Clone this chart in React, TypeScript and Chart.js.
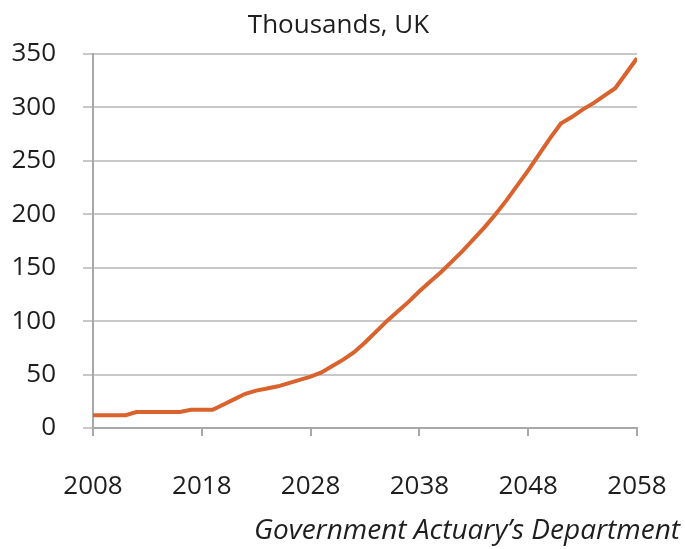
import React, { useEffect, useRef } from 'react';
import Chart from 'chart.js/auto';

const years = [
  2008, 2009, 2010, 2011, 2012, 2013, 2014, 2015, 2016, 2017,
  2018, 2019, 2020, 2021, 2022, 2023, 2024, 2025, 2026, 2027,
  2028, 2029, 2030, 2031, 2032, 2033, 2034, 2035, 2036, 2037,
  2038, 2039, 2040, 2041, 2042, 2043, 2044, 2045, 2046, 2047,
  2048, 2049, 2050, 2051, 2052, 2053, 2054, 2055, 2056, 2057,
  2058,
];

const centenariansThousands = [
  12, 12, 12, 12, 15, 15, 15, 15, 15, 17,
  17, 17, 22, 27, 32, 35, 37, 39, 42, 45,
  48, 52, 58, 64, 71, 80, 90, 100, 109, 118,
  128, 137, 146, 156, 166, 177, 188, 200, 213, 227,
  241, 256, 271, 285, 291, 298, 304, 311, 318, 332,
  346,
];

const xTickYears = [2008, 2018, 2028, 2038, 2048, 2058];
const yTickValues = [0, 50, 100, 150, 200, 250, 300, 350];

const subtitleText = 'Thousands, UK';
const sourceText = "Government Actuary\u2019s Department";

const FONT_FAMILY = '"Open Sans", "Noto Sans", sans-serif';
const TEXT_COLOR = '#1e1e1e';
const GRID_COLOR = '#c8c8c8';
const AXIS_COLOR = '#a8a8a8';
const LINE_COLOR = '#d9622d';

export default function App() {
  const canvasRef = useRef<HTMLCanvasElement>(null);

  useEffect(() => {
    if (!canvasRef.current) return;
    const chart = new Chart(canvasRef.current, {
      type: 'line',
      data: {
        datasets: [
          {
            data: years.map((yr, i) => ({ x: yr, y: centenariansThousands[i] })),
            borderColor: LINE_COLOR,
            borderWidth: 4,
            pointRadius: 0,
            tension: 0,
            fill: false,
          },
        ],
      },
      options: {
        animation: false,
        responsive: false,
        layout: { padding: { top: 54, right: 48, bottom: 41, left: 0 } },
        plugins: {
          legend: { display: false },
          tooltip: { enabled: false },
          title: { display: false },
        },
        scales: {
          x: {
            type: 'linear',
            min: xTickYears[0],
            max: xTickYears[xTickYears.length - 1],
            afterBuildTicks: (scale: any) => {
              scale.ticks = xTickYears.map((v) => ({ value: v }));
            },
            afterFit: (scale: any) => {
              scale.height = 80;
              scale.paddingLeft = 0;
              scale.paddingRight = 0;
            },
            grid: {
              drawOnChartArea: false,
              drawTicks: true,
              tickLength: 8,
              color: AXIS_COLOR,
              lineWidth: 2,
            },
            border: { display: true, color: AXIS_COLOR, width: 2 },
            ticks: {
              font: { family: FONT_FAMILY, size: 26 },
              color: TEXT_COLOR,
              padding: 35,
              maxRotation: 0,
              autoSkip: false,
              callback: (v: any) => String(v),
            },
          },
          y: {
            type: 'linear',
            min: yTickValues[0],
            max: yTickValues[yTickValues.length - 1],
            afterBuildTicks: (scale: any) => {
              scale.ticks = yTickValues.map((v) => ({ value: v }));
            },
            afterFit: (scale: any) => {
              scale.width = 93;
              scale.paddingTop = 0;
              scale.paddingBottom = 0;
            },
            grid: {
              drawOnChartArea: true,
              drawTicks: true,
              tickLength: 10,
              color: GRID_COLOR,
              lineWidth: 2,
            },
            border: { display: true, color: AXIS_COLOR, width: 2 },
            ticks: {
              font: { family: FONT_FAMILY, size: 26 },
              color: TEXT_COLOR,
              padding: 27,
              callback: (v: any) => String(v),
            },
          },
        },
      },
    });
    return () => chart.destroy();
  }, []);

  return (
    <div
      style={{
        position: 'fixed',
        left: 0,
        top: 0,
        width: 685,
        height: 549,
        background: '#ffffff',
        overflow: 'hidden',
      }}
    >
      <canvas ref={canvasRef} width={685} height={549} style={{ position: 'absolute', left: 0, top: 0 }} />
      <div
        style={{
          position: 'absolute',
          left: 0,
          top: 10,
          width: 677,
          textAlign: 'center',
          fontFamily: FONT_FAMILY,
          fontSize: 26,
          lineHeight: '26px',
          color: TEXT_COLOR,
          whiteSpace: 'nowrap',
        }}
      >
        {subtitleText}
      </div>
      <div
        style={{
          position: 'absolute',
          right: 5,
          top: 514,
          fontFamily: FONT_FAMILY,
          fontSize: 28,
          fontStyle: 'italic',
          lineHeight: '28px',
          color: TEXT_COLOR,
          whiteSpace: 'nowrap',
        }}
      >
        {sourceText}
      </div>
    </div>
  );
}
